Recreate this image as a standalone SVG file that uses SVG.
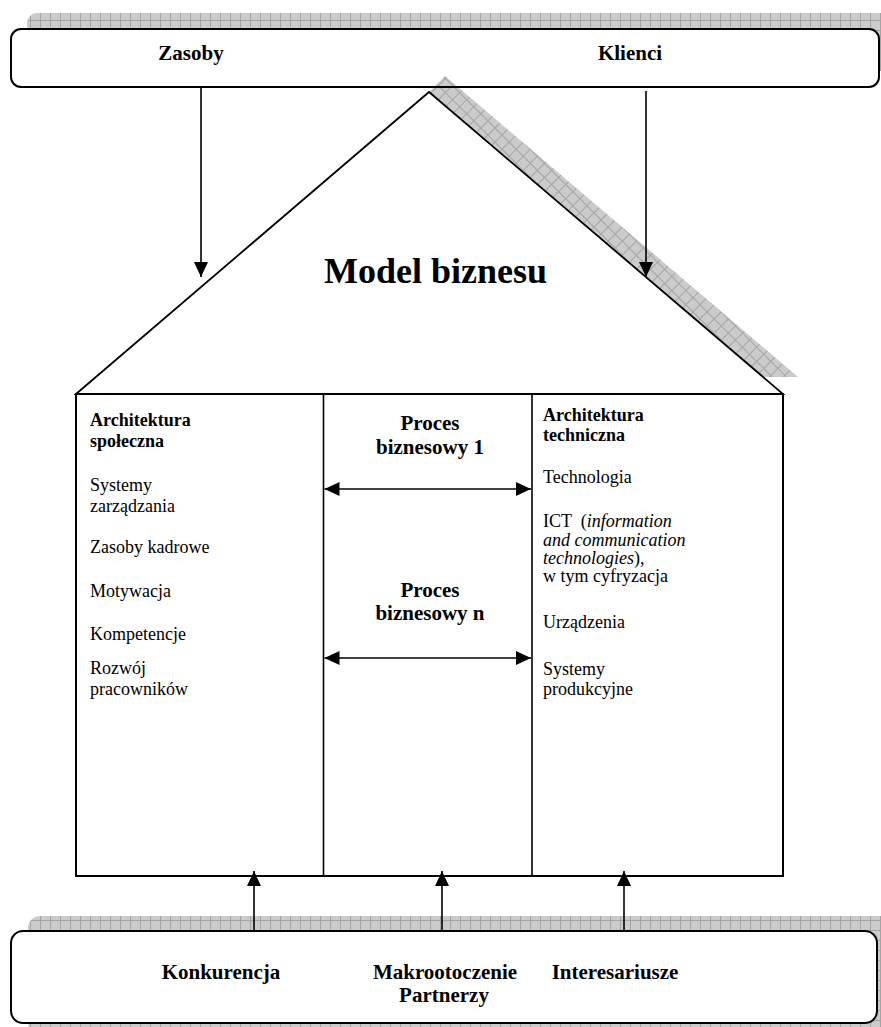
<svg xmlns="http://www.w3.org/2000/svg" width="881" height="1027" viewBox="0 0 881 1027">
<style>
.b{font-family:"Liberation Serif","Times New Roman",serif;font-weight:bold;fill:#000}
.r{font-family:"Liberation Serif","Times New Roman",serif;fill:#000;font-size:18px}
.h21{font-size:21px}
.h18{font-size:18px}
.ln{stroke:#000;stroke-width:1.6;fill:none}
.box{fill:#fff;stroke:#000;stroke-width:2}
</style>
<defs>
<pattern id="grid" width="10" height="10" patternUnits="userSpaceOnUse">
<rect width="10" height="10" fill="#cbcbcb"/>
<path d="M0 0.5H10M0.5 0V10" stroke="#a4a4a4" stroke-width="1"/>
</pattern>
<pattern id="diag" width="10" height="10" patternUnits="userSpaceOnUse" patternTransform="rotate(45)">
<rect width="10" height="10" fill="#cbcbcb"/>
<path d="M0 0.5H10M0.5 0V10" stroke="#a4a4a4" stroke-width="1"/>
</pattern>
<marker id="ah" viewBox="0 0 15 14" refX="15" refY="7" markerWidth="15" markerHeight="14" markerUnits="userSpaceOnUse" orient="auto-start-reverse">
<path d="M0 0L15 7L0 14Z" fill="#000"/>
</marker>
</defs>

<g id="top-box">
<rect x="27" y="13" width="870" height="58" rx="10" fill="url(#grid)"/>
<rect x="11" y="29" width="868" height="58" rx="10" fill="#fff"/>
<polygon points="429,92 445,76 798,377 763,377" fill="url(#diag)"/>
<rect x="11" y="29" width="868" height="58" rx="10" fill="none" stroke="#000" stroke-width="2"/>
<text class="b h21" x="191" y="60" text-anchor="middle">Zasoby</text>
<text class="b h21" x="630" y="60" text-anchor="middle">Klienci</text>
</g>

<g id="house">
<polygon points="76,394 429,92 783,394" fill="#fff" stroke="#000" stroke-width="1.8" stroke-linejoin="miter"/>
<text class="b" font-size="36" x="435.5" y="283" text-anchor="middle">Model biznesu</text>
<rect x="76" y="394" width="707" height="482" fill="#fff" stroke="#000" stroke-width="2"/>
</g>

<g id="col-social">
<text class="b h18" x="90" y="425.5">Architektura</text>
<text class="b h18" x="90" y="447">społeczna</text>
<text class="r" x="90" y="491">Systemy</text>
<text class="r" x="90" y="511.5">zarządzania</text>
<text class="r" x="90" y="553">Zasoby kadrowe</text>
<text class="r" x="90" y="596.5">Motywacja</text>
<text class="r" x="90" y="640">Kompetencje</text>
<text class="r" x="90" y="674">Rozwój</text>
<text class="r" x="90" y="695">pracowników</text>
</g>

<g id="col-process">
<line x1="323.5" y1="394" x2="323.5" y2="876" stroke="#000" stroke-width="1.6"/>
<line x1="532" y1="394" x2="532" y2="876" stroke="#000" stroke-width="1.6"/>
<text class="b h21" x="430" y="429.5" text-anchor="middle">Proces</text>
<text class="b h21" x="430" y="453.5" text-anchor="middle">biznesowy 1</text>
<text class="b h21" x="430" y="596.5" text-anchor="middle">Proces</text>
<text class="b h21" x="430" y="620" text-anchor="middle">biznesowy n</text>
</g>

<g id="col-technical">
<text class="b h18" x="543" y="420.5">Architektura</text>
<text class="b h18" x="543" y="440.5">techniczna</text>
<text class="r" x="543" y="483">Technologia</text>
<text class="r" x="543" y="527" xml:space="preserve">ICT  (<tspan font-style="italic">information</tspan></text>
<text class="r" x="543" y="545.5" font-style="italic">and communication</text>
<text class="r" x="543" y="563.5"><tspan font-style="italic">technologies</tspan>),</text>
<text class="r" x="543" y="582">w tym cyfryzacja</text>
<text class="r" x="543" y="628">Urządzenia</text>
<text class="r" x="543" y="675">Systemy</text>
<text class="r" x="543" y="695">produkcyjne</text>
</g>

<g id="bottom-box">
<rect x="28" y="916" width="870" height="120" rx="12" fill="url(#grid)"/>
<rect x="11" y="931" width="866" height="92" rx="12" class="box"/>
<text class="b h21" x="221" y="978.5" text-anchor="middle">Konkurencja</text>
<text class="b h21" x="445" y="978.5" text-anchor="middle">Makrootoczenie</text>
<text class="b h21" x="444" y="1002" text-anchor="middle">Partnerzy</text>
<text class="b h21" x="615" y="978.5" text-anchor="middle">Interesariusze</text>
</g>

<g id="connectors">
<line class="ln" x1="201" y1="87" x2="201" y2="277" marker-end="url(#ah)"/>
<line class="ln" x1="646" y1="91" x2="646" y2="277" marker-end="url(#ah)"/>
<line class="ln" x1="324.5" y1="489" x2="531" y2="489" stroke-width="2" marker-start="url(#ah)" marker-end="url(#ah)"/>
<line class="ln" x1="324.5" y1="658" x2="531" y2="658" stroke-width="2" marker-start="url(#ah)" marker-end="url(#ah)"/>
<line class="ln" x1="254" y1="931" x2="254" y2="871" stroke-width="2" marker-end="url(#ah)"/>
<line class="ln" x1="442" y1="931" x2="442" y2="871" stroke-width="1.6" marker-end="url(#ah)"/>
<line class="ln" x1="624" y1="931" x2="624" y2="871" stroke-width="1.6" marker-end="url(#ah)"/>
</g>
</svg>
